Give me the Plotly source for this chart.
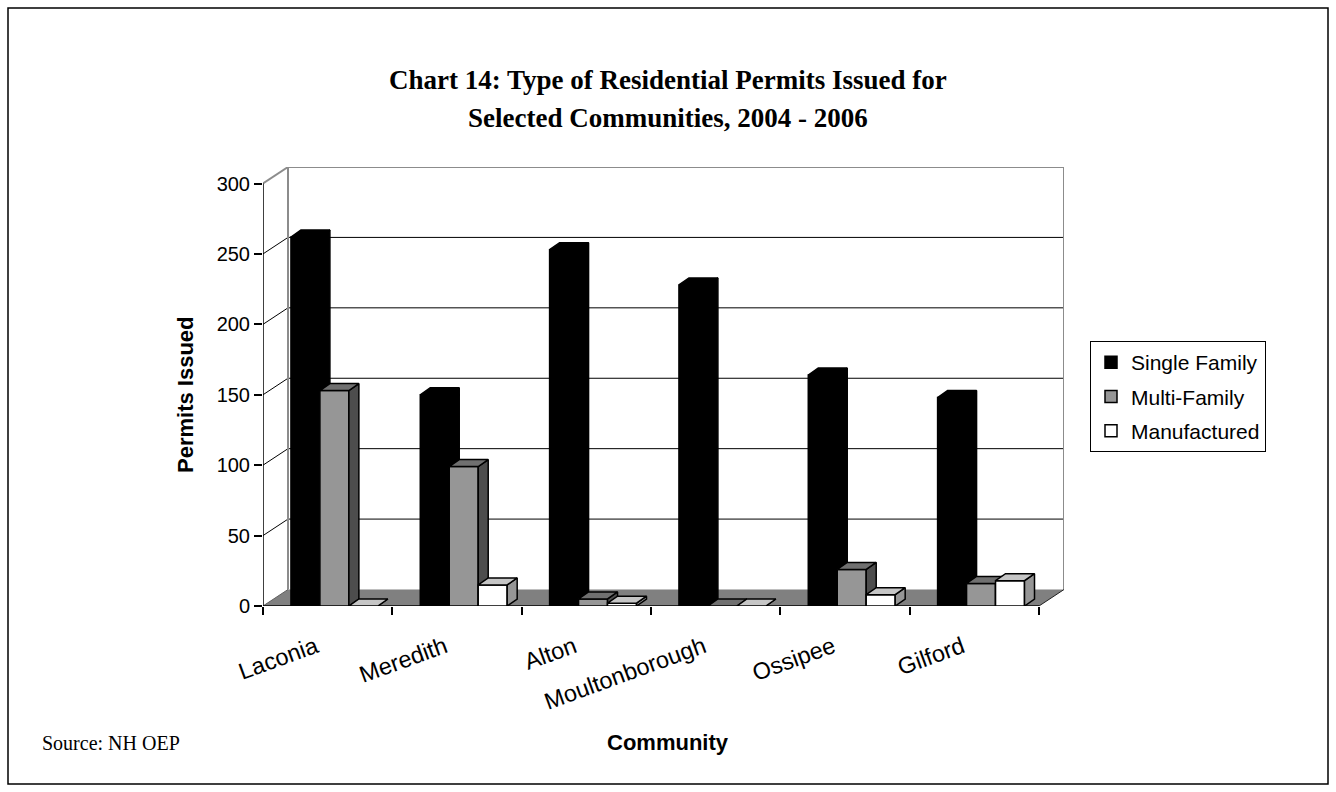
import plotly.graph_objects as go

# ---- data -------------------------------------------------------------
communities = ["Laconia", "Meredith", "Alton", "Moultonborough", "Ossipee", "Gilford"]
single_family = [262, 150, 253, 228, 164, 148]
multi_family = [153, 99, 5, 0, 26, 16]
manufactured = [0, 15, 2, 0, 8, 18]
y_ticks = [0, 50, 100, 150, 200, 250, 300]

# ---- page / plot-area geometry (pixels) --------------------------------
W, H = 1336, 792
X_LEFT, X_FRONT_RIGHT, X_BACK_RIGHT = 263, 1039, 1064
Y_ZERO, Y_TOP_TICK, Y_TOP = 606, 183.5, 167
YMAX = 300

px_per_x = (X_FRONT_RIGHT - X_LEFT) / len(communities)
px_per_y = (Y_ZERO - Y_TOP_TICK) / YMAX
DX = (X_BACK_RIGHT - X_FRONT_RIGHT) / px_per_x   # wall depth, x units
DY = (Y_TOP_TICK - Y_TOP) / px_per_y             # wall depth, y units
BDX = 10 / px_per_x                              # bar depth, x units
BDY = 7 / px_per_y                               # bar depth, y units
BAR_W = 0.224
LABEL_SHIFT = 12 / px_per_x                      # category labels sit left of centre

M_L, M_R, M_T, M_B = X_LEFT, W - X_BACK_RIGHT, Y_TOP, H - Y_ZERO


def paper_x(px):
    return (px - M_L) / (W - M_L - M_R)


def paper_y(py):
    return (H - M_B - py) / (H - M_T - M_B)


SANS = "Liberation Sans, Arial, sans-serif"
SERIF = "Liberation Serif, Times New Roman, serif"

series = [
    # name, values, front, top, side, offset
    ("Single Family", single_family, "#000000", "#000000", "#000000", -0.284),
    ("Multi-Family", multi_family, "#969696", "#707070", "#4d4d4d", -0.060),
    ("Manufactured", manufactured, "#ffffff", "#c6c6c6", "#969696", 0.164),
]

fig = go.Figure()
xs = list(range(len(communities)))

for k, (name, vals, c_front, c_top, c_side, off) in enumerate(series):
    # front faces
    fig.add_trace(go.Bar(
        x=xs, y=vals, width=BAR_W, offset=off, name=name, legendgroup=name,
        marker=dict(color=c_front, line=dict(color="#000000", width=1.5)),
        hoverinfo="skip", zorder=k,
    ))
    # right-hand side faces and top faces of the extruded columns
    side_x, side_y, top_x, top_y = [], [], [], []
    for i, v in zip(xs, vals):
        x0 = i + off
        x1 = x0 + BAR_W
        side_x += [x1, x1, x1 + BDX, x1 + BDX, x1, None]
        side_y += [0, v, v + BDY, BDY, 0, None]
        top_x += [x0, x0 + BDX, x1 + BDX, x1, x0, None]
        top_y += [v, v + BDY, v + BDY, v, v, None]
    fig.add_trace(go.Scatter(
        x=side_x, y=side_y, mode="lines", fill="toself", fillcolor=c_side,
        line=dict(color="#000000", width=1.5), showlegend=False,
        legendgroup=name, hoverinfo="skip", zorder=k,
    ))
    fig.add_trace(go.Scatter(
        x=top_x, y=top_y, mode="lines", fill="toself", fillcolor=c_top,
        line=dict(color="#000000", width=1.5), showlegend=False,
        legendgroup=name, hoverinfo="skip", zorder=k,
    ))

# ---- walls, floor and axes --------------------------------------------
x_lo, x_hi = -0.5, len(communities) - 0.5
shapes = []
# floor
shapes.append(dict(
    type="path", xref="x", yref="y", layer="below",
    path=f"M {x_lo},0 L {x_hi},0 L {x_hi + DX},{DY} L {x_lo + DX},{DY} Z",
    fillcolor="#808080", line=dict(width=0),
))
# back-wall gridlines and side-wall diagonals
for v in y_ticks[1:-1]:
    shapes.append(dict(type="line", xref="x", yref="y", layer="below",
                       x0=x_lo + DX, y0=v + DY, x1=x_hi + DX, y1=v + DY,
                       line=dict(color="#000000", width=1)))
    shapes.append(dict(type="line", xref="x", yref="y", layer="below",
                       x0=x_lo, y0=v, x1=x_lo + DX, y1=v + DY,
                       line=dict(color="#000000", width=1)))
wall = dict(color="#8c8c8c", width=2)
shapes += [
    dict(type="line", xref="x", yref="y", layer="below",
         x0=x_lo + DX, y0=DY, x1=x_lo + DX, y1=YMAX + DY, line=wall),
    dict(type="line", xref="x", yref="y", layer="below",
         x0=x_hi + DX, y0=DY, x1=x_hi + DX, y1=YMAX + DY, line=wall),
    dict(type="line", xref="x", yref="y", layer="below",
         x0=x_lo + DX, y0=YMAX + DY, x1=x_hi + DX, y1=YMAX + DY, line=wall),
    dict(type="line", xref="x", yref="y", layer="below",
         x0=x_lo, y0=YMAX, x1=x_lo + DX, y1=YMAX + DY, line=wall),
    dict(type="line", xref="x", yref="y", layer="below",
         x0=x_lo, y0=0, x1=x_lo + DX, y1=DY, line=dict(color="#606060", width=1)),
    dict(type="line", xref="x", yref="y", layer="below",
         x0=x_hi, y0=0, x1=x_hi + DX, y1=DY, line=dict(color="#202020", width=1)),
    # front axis lines
    dict(type="line", xref="x", yref="y", layer="below",
         x0=x_lo, y0=0, x1=x_lo, y1=YMAX, line=dict(color="#000000", width=1.5)),
    dict(type="line", xref="x", yref="y", layer="below",
         x0=x_lo, y0=0, x1=x_hi, y1=0, line=dict(color="#000000", width=1.5)),
    # outer frame
    dict(type="rect", xref="paper", yref="paper",
         x0=paper_x(8), y0=paper_y(784), x1=paper_x(1328), y1=paper_y(8),
         line=dict(color="#000000", width=1.5), fillcolor="rgba(0,0,0,0)"),
]


def label(text, px, py, size, family, bold=False, angle=0, xanchor="center"):
    return dict(
        text=f"<b>{text}</b>" if bold else text,
        x=paper_x(px), y=paper_y(py), xref="paper", yref="paper",
        xanchor=xanchor, yanchor="middle", textangle=angle, showarrow=False,
        font=dict(family=family, size=size, color="#000000"),
    )


annotations = [
    label("Chart 14: Type of Residential Permits Issued for", 668, 80, 27, SERIF, True),
    label("Selected Communities, 2004 - 2006", 668, 118, 27, SERIF, True),
    label("Permits Issued", 185, 395, 22, SANS, True, angle=-90),
    label("Community", 668, 742, 22, SANS, True),
    label("Source: NH OEP", 40, 743, 20, SERIF, xanchor="left"),
]

fig.update_layout(
    width=W, height=H, autosize=False,
    margin=dict(l=M_L, r=M_R, t=M_T, b=M_B, pad=0, autoexpand=False),
    paper_bgcolor="#ffffff", plot_bgcolor="#ffffff",
    barmode="overlay", showlegend=True,
    shapes=shapes, annotations=annotations,
    legend=dict(
        x=paper_x(1090), y=paper_y(452), xanchor="left", yanchor="bottom",
        bgcolor="#ffffff", bordercolor="#000000", borderwidth=1,
        font=dict(family=SANS, size=21, color="#000000"),
        traceorder="grouped", tracegroupgap=4,
    ),
    xaxis=dict(
        range=[x_lo, x_hi + DX], tickmode="array",
        tickvals=[i - LABEL_SHIFT for i in xs],
        ticktext=communities, tickangle=-20, ticks="", ticklabelstandoff=22,
        tickfont=dict(family=SANS, size=23.5, color="#000000"),
        showgrid=False, zeroline=False, showline=False, automargin=False,
        minor=dict(tickmode="array",
                   tickvals=[i - 0.5 for i in range(len(communities) + 1)],
                   ticks="outside", ticklen=8, tickcolor="#000000",
                   tickwidth=1.5, showgrid=False),
        fixedrange=True,
    ),
    yaxis=dict(
        range=[0, YMAX + DY], tickmode="array", tickvals=y_ticks,
        ticks="outside", ticklen=8, tickcolor="#000000", tickwidth=1.5,
        tickfont=dict(family=SANS, size=20, color="#000000"),
        showgrid=False, zeroline=False, showline=False, automargin=False,
        fixedrange=True,
    ),
)

fig.write_html("out.html")
